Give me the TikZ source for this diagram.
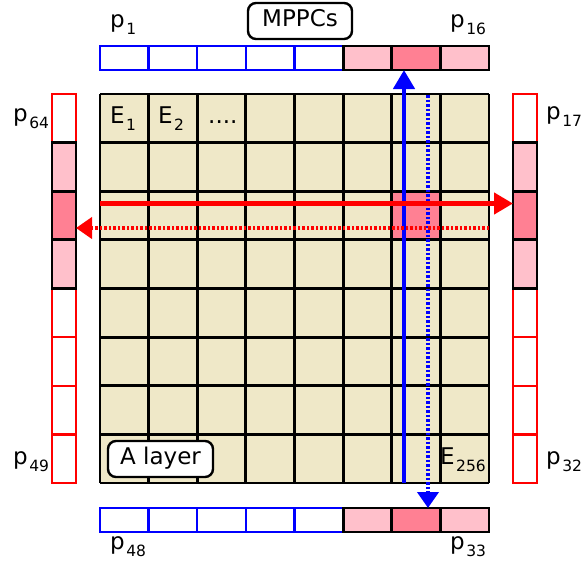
\documentclass[tikz,border=0pt]{standalone}
\usepackage{fontspec}
\setmainfont{DejaVu Sans}
\usetikzlibrary{arrows.meta}
\definecolor{beige}{HTML}{EFE8C8}
\definecolor{lpink}{HTML}{FFC0CB}
\definecolor{dpink}{HTML}{FF8093}
\definecolor{hblue}{HTML}{0000FF}
\definecolor{hred}{HTML}{FF0000}
\newcommand\mysub[1]{\kern1.5pt\raisebox{-7pt}{\fontsize{15.5}{15.5}\selectfont #1}}
\begin{document}
\begin{tikzpicture}[x=1pt,y=-1pt,
  lbl/.style={inner sep=0pt, anchor=base west, font=\fontsize{23}{27}\selectfont},
  rbox/.style={draw, fill=white, rounded corners=8pt, line width=2.4pt, inner sep=0pt,
    text height=16.5pt, text depth=4.8pt, font=\fontsize{23}{27}\selectfont},
  gridline/.style={line width=2.8pt, black},
  bluecell/.style={draw=hblue, fill=white, line width=2.4pt},
  redcell/.style={draw=hred, fill=white, line width=2.4pt},
  lcell/.style={draw=black, fill=lpink, line width=2.8pt},
  dcell/.style={draw=black, fill=dpink, line width=2.8pt},
  solidarrow/.style={line width=4.4pt, -{Triangle[length=19pt,width=21pt]}},
  dotarrow/.style={line width=4pt, dash pattern=on 2.5pt off 2pt, -{Triangle[length=16pt,width=21pt]}}
]
\useasboundingbox (0,0) rectangle (581,566);
\def\c{48.625}
% grid
\fill[beige] (100,94) rectangle (489,483);
\fill[dpink] (100+6*\c,94+2*\c) rectangle ++(\c,\c);
\foreach \i in {0,...,8} {
  \draw[gridline] (100+\i*\c,94) -- (100+\i*\c,483);
  \draw[gridline] (100,94+\i*\c) -- (489,94+\i*\c);
}
% top and bottom bars
\foreach \yy in {46,508} {
  \foreach \i in {0,...,4} \draw[bluecell] (100+\i*\c,\yy) rectangle ++(\c,24);
  \draw[lcell] (100+5*\c,\yy) rectangle ++(\c,24);
  \draw[dcell] (100+6*\c,\yy) rectangle ++(\c,24);
  \draw[lcell] (100+7*\c,\yy) rectangle ++(\c,24);
}
% left and right bars
\foreach \xx in {52,513} {
  \foreach \j in {0,4,5,6,7} \draw[redcell] (\xx,94+\j*\c) rectangle ++(24,\c);
  \draw[lcell] (\xx,94+1*\c) rectangle ++(24,\c);
  \draw[dcell] (\xx,94+2*\c) rectangle ++(24,\c);
  \draw[lcell] (\xx,94+3*\c) rectangle ++(24,\c);
}
% arrow end points
\coordinate (bsA) at (404,483);
\coordinate (bsB) at (404,70);
\coordinate (bdA) at (428,95);
\coordinate (bdB) at (428,508);
\coordinate (rsA) at (100,203.5);
\coordinate (rsB) at (513,203.5);
\coordinate (rdA) at (489,228);
\coordinate (rdB) at (76,228);
\draw[hblue, solidarrow] (bsA) -- (bsB);
\draw[hblue, dotarrow] (bdA) -- (bdB);
\draw[hred, solidarrow] (rsA) -- (rsB);
\draw[hred, dotarrow] (rdA) -- (rdB);
% labels
\node[lbl] (p1) at (110,27) {p\mysub{1}};
\node[lbl] (p16) at (450,27) {p\mysub{16}};
\node[lbl] (p64) at (13,121.5) {p\mysub{64}};
\node[lbl] (p17) at (546,119.5) {p\mysub{17}};
\node[lbl] (p49) at (13,464.5) {p\mysub{49}};
\node[lbl] (p32) at (546,464.5) {p\mysub{32}};
\node[lbl] (p48) at (110,549.5) {p\mysub{48}};
\node[lbl] (p33) at (450,549.5) {p\mysub{33}};
\node[lbl] (e1) at (110,123) {E\mysub{1}};
\node[lbl] (e2) at (158,123) {E\mysub{2}};
\node[lbl] (dots) at (208,123) {....};
\node[lbl] (e256) at (440,464) {E\mysub{256}};
\node[rbox, minimum width=104pt, minimum height=36pt] (mppc) at (300,21) {MPPCs};
\node[rbox, minimum width=105pt, minimum height=36pt] (layer) at (160.5,459) {A layer};
\end{tikzpicture}
\end{document}
